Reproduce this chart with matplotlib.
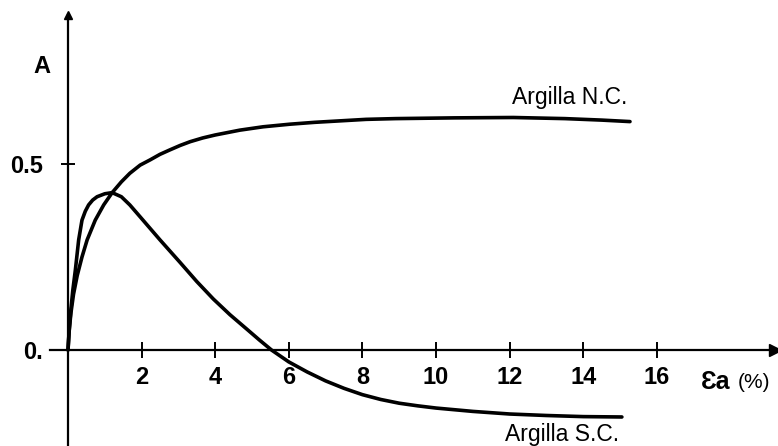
import matplotlib
matplotlib.use('Agg')
import matplotlib.pyplot as plt

plt.rcParams['font.family'] = ['Liberation Sans', 'DejaVu Sans']

# Argilla N.C. (normally consolidated clay), A vs axial strain %
nc_strain = [0, 0.03, 0.08, 0.15, 0.25, 0.38, 0.52, 0.74, 0.97, 1.2, 1.45, 1.68, 1.96,
             2.23, 2.5, 2.77, 3.05, 3.32, 3.66, 4.0, 4.67, 5.3, 6.03, 6.7, 7.4, 8.1,
             8.9, 10.5, 12.1, 13.5, 14.5, 15.27]
nc_A = [0, 0.05, 0.1, 0.15, 0.2, 0.25, 0.296, 0.349, 0.39, 0.423, 0.452, 0.475, 0.497,
        0.511, 0.526, 0.538, 0.55, 0.56, 0.57, 0.578, 0.591, 0.6, 0.607, 0.612, 0.616, 0.62,
        0.622, 0.624, 0.625, 0.622, 0.618, 0.614]

# Argilla S.C. (overconsolidated clay)
sc_strain = [0, 0.04, 0.08, 0.13, 0.2, 0.29, 0.38, 0.47, 0.56, 0.67, 0.79, 1.0, 1.2,
             1.45, 1.68, 1.96, 2.23, 2.5, 2.77, 3.04, 3.5, 3.95, 4.4, 4.86, 5.2, 5.53,
             6.0, 6.5, 7.0, 7.5, 8.0, 8.5, 9.0, 9.5, 10.0, 11.0, 12.0, 13.0, 14.0, 15.05]
sc_A = [0, 0.063, 0.11, 0.16, 0.215, 0.296, 0.349, 0.373, 0.39, 0.403, 0.412, 0.42, 0.423,
        0.412, 0.39, 0.358, 0.327, 0.296, 0.266, 0.236, 0.184, 0.137, 0.095, 0.056, 0.027, 0.0,
        -0.032, -0.059, -0.083, -0.103, -0.12, -0.133, -0.143, -0.15, -0.156, -0.165, -0.172,
        -0.176, -0.179, -0.18]

xticks = [2, 4, 6, 8, 10, 12, 14, 16]
yticks = [0, 0.5]
ylabels = ['0.', '0.5']

fig = plt.figure(figsize=(7.78, 4.46), dpi=100)
ax = fig.add_axes([50 / 778, 0, 725 / 778, 431 / 446])

ax.plot(nc_strain, nc_A, color='black', lw=2.6, solid_joinstyle='round', solid_capstyle='round')
ax.plot(sc_strain, sc_A, color='black', lw=2.6, solid_joinstyle='round', solid_capstyle='round')

ax.set_xlim(-0.489, 19.21)
ax.set_ylim(-0.258, 0.9005)

for s in ['top', 'right']:
    ax.spines[s].set_visible(False)
ax.spines['left'].set_position(('data', 0))
ax.spines['bottom'].set_position(('data', 0))
ax.spines['left'].set_linewidth(1.6)
ax.spines['bottom'].set_linewidth(1.6)

# arrow heads on the axes
ax.plot(1, 0, '>k', ms=8, transform=ax.get_yaxis_transform(), clip_on=False)
ax.plot(0, 1, '^k', ms=6, transform=ax.get_xaxis_transform(), clip_on=False)

ax.set_xticks(xticks)
ax.set_xticklabels([str(t) for t in xticks], fontsize=17, fontweight='bold')
ax.tick_params(axis='x', direction='inout', length=11, width=1.4, pad=6)
ax.set_yticks(yticks)
ax.set_yticklabels(ylabels, fontsize=17, fontweight='bold')
ax.tick_params(axis='y', direction='inout', length=10, width=1.4, pad=13)

ax.text(-0.71, 0.763, 'A', fontsize=17, fontweight='bold', ha='center', va='center')
ax.text(17.2, -0.087, 'Ɛa', fontsize=18, fontweight='bold', ha='left', va='center')
ax.text(18.2, -0.087, '(%)', fontsize=15, ha='left', va='center')

ax.text(12.07, 0.68, 'Argilla N.C.', fontsize=16.5, ha='left', va='center')
ax.text(11.87, -0.228, 'Argilla S.C.', fontsize=16.5, ha='left', va='center')

fig.savefig('out.png', dpi=100)
